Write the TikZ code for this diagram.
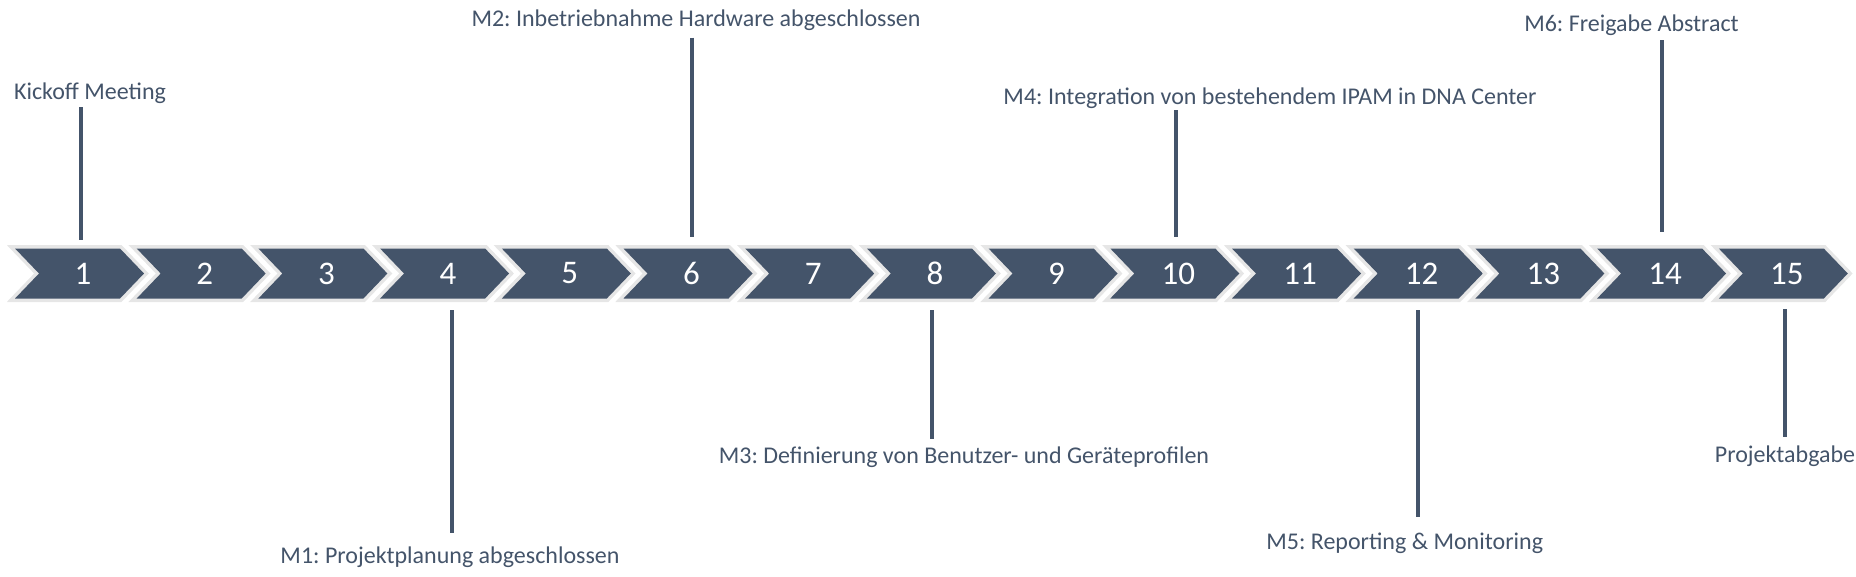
\documentclass[tikz,border=0pt]{standalone}
\usepackage{fontspec}
\setmainfont{Carlito}
\frenchspacing
\definecolor{slate}{HTML}{44546A}
\definecolor{rim}{HTML}{E6E6E6}
\begin{document}
\begin{tikzpicture}[x=1pt,y=-1pt,
  lbl/.style={anchor=base,text=slate,font=\fontsize{24}{28}\selectfont,inner sep=0pt},
  num/.style={text=white,font=\fontsize{33}{36}\selectfont,inner sep=0pt},
  stem/.style={draw=slate,line width=4pt},
  chevfill/.style={fill=slate},
  chevrim/.style={draw=rim,line width=7pt,line join=miter}]
\useasboundingbox (0,0) rectangle (1856,576);
% chevrons
\foreach \i in {1,...,15}{
  \pgfmathsetmacro{\L}{15+(\i-1)*121.7}
  \path[chevrim] (\L,248.5) -- (\L+105,248.5) -- (\L+129,273.5) -- (\L+105,298.5) -- (\L,298.5) -- (\L+24,273.5) -- cycle;
  \path[chevfill] (\L,248.5) -- (\L+105,248.5) -- (\L+129,273.5) -- (\L+105,298.5) -- (\L,298.5) -- (\L+24,273.5) -- cycle;
  \node[num] (c\i) at (\L+68,273.5) {\i};
}
% labels
\node[lbl] (kick) at (90,99.3) {Kickoff Meeting};
\node[lbl] (m2) at (696,26.7) {M2: Inbetriebnahme Hardware abgeschlossen};
\node[lbl] (m4) at (1270,104.3) {M4: Integration von bestehendem IPAM in DNA Center};
\node[lbl] (m6) at (1631.5,31.7) {M6: Freigabe Abstract};
\node[lbl] (m1) at (450,563.3) {M1: Projektplanung abgeschlossen};
\node[lbl] (m3) at (964,463.8) {M3: Definierung von Benutzer- und Geräteprofilen};
\node[lbl] (m5) at (1404.7,549.3) {M5: Reporting \& Monitoring};
\node[lbl] (pa) at (1785,462.3) {Projektabgabe};
% stem end points
\coordinate (k1a) at (81,107);     \coordinate (k1b) at (81,240);
\coordinate (k6a) at (691.7,37.7); \coordinate (k6b) at (691.7,237);
\coordinate (k10a) at (1175.7,110); \coordinate (k10b) at (1175.7,237);
\coordinate (k14a) at (1661.7,40); \coordinate (k14b) at (1661.7,232);
\coordinate (k4a) at (452,310);    \coordinate (k4b) at (452,533);
\coordinate (k8a) at (932,310);    \coordinate (k8b) at (932,438.5);
\coordinate (k12a) at (1418,310);  \coordinate (k12b) at (1418,516.7);
\coordinate (k15a) at (1785,309);  \coordinate (k15b) at (1785,436.7);
\draw[stem] (k1a) -- (k1b);
\draw[stem] (k6a) -- (k6b);
\draw[stem] (k10a) -- (k10b);
\draw[stem] (k14a) -- (k14b);
\draw[stem] (k4a) -- (k4b);
\draw[stem] (k8a) -- (k8b);
\draw[stem] (k12a) -- (k12b);
\draw[stem] (k15a) -- (k15b);
\end{tikzpicture}
\end{document}
